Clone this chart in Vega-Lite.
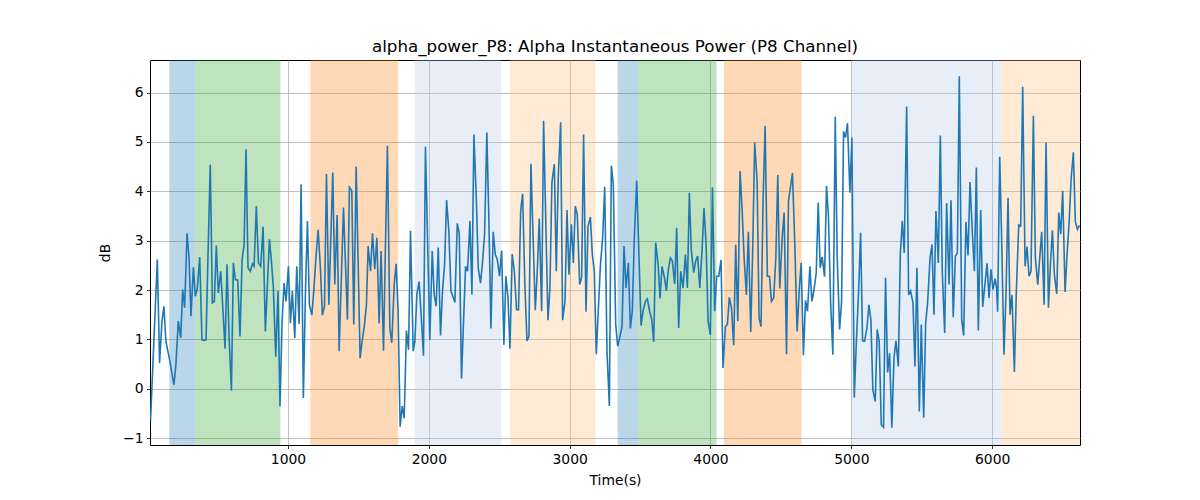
{
  "$schema": "https://vega.github.io/schema/vega-lite/v6.json",
  "autosize": {"type": "none"},
  "padding": {"left": 150, "top": 60, "right": 120, "bottom": 55},
  "width": 930,
  "height": 385,
  "title": {"text": "alpha_power_P8: Alpha Instantaneous Power (P8 Channel)", "fontSize": 16.7, "fontWeight": "normal", "font": "DejaVu Sans", "color": "black", "offset": 4},
  "config": {
    "font": "DejaVu Sans",
    "view": {"stroke": "black", "strokeWidth": 1},
    "axis": {
      "domain": false,
      "grid": true,
      "gridColor": "#b0b0b0",
      "gridWidth": 0.8,
      "gridOpacity": 1,
      "tickColor": "black",
      "tickSize": 3.5,
      "tickWidth": 0.8,
      "labelFontSize": 13.9,
      "labelColor": "black",
      "labelPadding": 3.5,
      "titleFontSize": 13.9,
      "titleFontWeight": "normal",
      "titleColor": "black"
    }
  },
  "datasets": {
    "spans": [
      {"start": 157, "end": 342, "kind": "a"},
      {"start": 342, "end": 946, "kind": "b"},
      {"start": 1159, "end": 1782, "kind": "c"},
      {"start": 1899, "end": 2515, "kind": "d"},
      {"start": 2575, "end": 3183, "kind": "e"},
      {"start": 3341, "end": 3485, "kind": "a"},
      {"start": 3485, "end": 4043, "kind": "b"},
      {"start": 4095, "end": 4647, "kind": "c"},
      {"start": 5002, "end": 6063, "kind": "d"},
      {"start": 6063, "end": 6624, "kind": "e"}
    ],
    "sig": [
      {"t":24,"v":-0.63},{"t":72,"v":2.62},{"t":88,"v":0.52},{"t":105,"v":1.37},{"t":119,"v":1.67},{"t":133,"v":0.96},{"t":159,"v":0.59},{"t":190,"v":0.08},{"t":204,"v":0.49},{"t":221,"v":1.37},{"t":238,"v":1.03},{"t":252,"v":2.01},{"t":266,"v":1.64},{"t":283,"v":3.15},{"t":297,"v":2.65},{"t":311,"v":1.47},{"t":328,"v":2.46},{"t":342,"v":1.87},{"t":356,"v":2.04},{"t":373,"v":2.67},{"t":389,"v":0.99},{"t":403,"v":0.98},{"t":418,"v":0.99},{"t":432,"v":2.72},{"t":448,"v":4.54},{"t":463,"v":1.74},{"t":477,"v":1.77},{"t":491,"v":2.90},{"t":505,"v":1.94},{"t":522,"v":2.38},{"t":536,"v":1.70},{"t":553,"v":0.81},{"t":567,"v":2.52},{"t":581,"v":1.09},{"t":598,"v":-0.04},{"t":612,"v":2.55},{"t":626,"v":2.21},{"t":643,"v":2.20},{"t":659,"v":1.06},{"t":674,"v":2.62},{"t":688,"v":2.92},{"t":702,"v":4.85},{"t":716,"v":2.45},{"t":733,"v":2.38},{"t":747,"v":2.53},{"t":759,"v":2.48},{"t":775,"v":3.70},{"t":790,"v":2.55},{"t":806,"v":2.48},{"t":823,"v":3.28},{"t":839,"v":1.16},{"t":868,"v":3.03},{"t":882,"v":2.59},{"t":896,"v":2.04},{"t":913,"v":0.65},{"t":929,"v":1.98},{"t":943,"v":-0.36},
      {"t":958,"v":1.37},{"t":972,"v":2.14},{"t":986,"v":1.77},{"t":1003,"v":2.48},{"t":1017,"v":1.33},{"t":1031,"v":1.98},{"t":1048,"v":1.03},{"t":1062,"v":2.48},{"t":1079,"v":1.31},{"t":1093,"v":4.14},{"t":1109,"v":-0.19},{"t":1124,"v":1.98},{"t":1138,"v":3.40},{"t":1152,"v":1.70},{"t":1169,"v":1.49},{"t":1183,"v":1.98},{"t":1200,"v":2.72},{"t":1214,"v":3.22},{"t":1230,"v":2.45},{"t":1244,"v":1.49},{"t":1259,"v":1.67},{"t":1273,"v":4.35},{"t":1290,"v":1.70},{"t":1318,"v":4.38},{"t":1332,"v":2.11},{"t":1349,"v":3.52},{"t":1363,"v":0.76},{"t":1394,"v":3.67},{"t":1422,"v":1.40},{"t":1436,"v":4.08},{"t":1453,"v":4.01},{"t":1467,"v":1.30},{"t":1484,"v":4.50},{"t":1512,"v":0.62},{"t":1526,"v":0.96},{"t":1543,"v":1.30},{"t":1557,"v":1.70},{"t":1569,"v":2.89},{"t":1586,"v":2.38},{"t":1600,"v":3.15},{"t":1616,"v":2.42},{"t":1631,"v":3.06},{"t":1647,"v":1.32},{"t":1661,"v":2.79},{"t":1678,"v":0.77},{"t":1692,"v":2.92},{"t":1706,"v":4.92},{"t":1723,"v":1.23},{"t":1737,"v":0.93},{"t":1754,"v":2.11},{"t":1768,"v":2.53},{"t":1782,"v":1.57},{"t":1796,"v":-0.77},{"t":1811,"v":-0.35},{"t":1825,"v":-0.60},{"t":1841,"v":1.18},{"t":1856,"v":0.79},{"t":1870,"v":3.20},
      {"t":1889,"v":0.76},{"t":1901,"v":0.96},{"t":1915,"v":1.91},{"t":1931,"v":2.17},{"t":1948,"v":1.37},{"t":1962,"v":0.67},{"t":1976,"v":4.90},{"t":2007,"v":0.99},{"t":2024,"v":2.79},{"t":2038,"v":1.91},{"t":2052,"v":1.67},{"t":2067,"v":2.86},{"t":2083,"v":1.08},{"t":2097,"v":1.98},{"t":2112,"v":2.52},{"t":2126,"v":3.82},{"t":2142,"v":3.20},{"t":2157,"v":1.98},{"t":2171,"v":1.87},{"t":2185,"v":1.75},{"t":2202,"v":3.35},{"t":2216,"v":3.15},{"t":2232,"v":0.21},{"t":2247,"v":1.40},{"t":2261,"v":2.48},{"t":2275,"v":2.38},{"t":2292,"v":3.40},{"t":2306,"v":1.91},{"t":2320,"v":5.15},{"t":2337,"v":3.87},{"t":2351,"v":2.45},{"t":2367,"v":2.14},{"t":2382,"v":2.59},{"t":2396,"v":3.13},{"t":2412,"v":5.19},{"t":2427,"v":3.33},{"t":2441,"v":1.22},{"t":2457,"v":3.18},{"t":2472,"v":2.72},{"t":2486,"v":2.62},{"t":2502,"v":2.28},{"t":2517,"v":2.80},{"t":2533,"v":0.89},{"t":2547,"v":2.28},{"t":2562,"v":1.84},{"t":2576,"v":0.81},{"t":2592,"v":2.73},{"t":2607,"v":2.38},{"t":2623,"v":1.60},{"t":2637,"v":1.60},{"t":2652,"v":3.60},{"t":2666,"v":3.95},{"t":2682,"v":2.11},{"t":2697,"v":0.97},{"t":2711,"v":1.06},{"t":2725,"v":4.56},{"t":2742,"v":2.92},{"t":2756,"v":1.59},{"t":2770,"v":2.38},{"t":2784,"v":3.45},{"t":2801,"v":1.57},{"t":2815,"v":5.43},
      {"t":2832,"v":3.20},{"t":2846,"v":1.39},{"t":2860,"v":2.04},{"t":2874,"v":4.18},{"t":2891,"v":4.55},{"t":2905,"v":2.38},{"t":2919,"v":4.28},{"t":2936,"v":5.40},{"t":2950,"v":1.39},{"t":2967,"v":1.77},{"t":2981,"v":3.62},{"t":2995,"v":2.31},{"t":3012,"v":3.33},{"t":3026,"v":2.55},{"t":3040,"v":3.70},{"t":3054,"v":3.53},{"t":3071,"v":2.11},{"t":3085,"v":2.25},{"t":3099,"v":5.15},{"t":3116,"v":1.56},{"t":3130,"v":3.28},{"t":3147,"v":3.48},{"t":3161,"v":2.72},{"t":3175,"v":2.38},{"t":3189,"v":0.70},{"t":3218,"v":2.48},{"t":3234,"v":3.06},{"t":3249,"v":4.09},{"t":3265,"v":0.76},{"t":3282,"v":-0.35},{"t":3296,"v":4.52},{"t":3310,"v":4.14},{"t":3327,"v":1.30},{"t":3341,"v":0.86},{"t":3355,"v":1.03},{"t":3372,"v":1.26},{"t":3386,"v":2.89},{"t":3400,"v":2.04},{"t":3417,"v":2.55},{"t":3431,"v":1.22},{"t":3445,"v":1.57},{"t":3459,"v":3.03},{"t":3476,"v":4.22},{"t":3507,"v":1.28},{"t":3521,"v":1.57},{"t":3538,"v":1.77},{"t":3552,"v":1.82},{"t":3568,"v":1.57},{"t":3583,"v":1.40},{"t":3597,"v":0.95},{"t":3611,"v":2.96},{"t":3628,"v":2.52},{"t":3642,"v":1.83},{"t":3656,"v":2.48},{"t":3673,"v":2.25},{"t":3687,"v":1.98},{"t":3701,"v":2.42},{"t":3715,"v":2.65},{"t":3729,"v":2.59},{"t":3746,"v":2.12},{"t":3760,"v":3.26},
      {"t":3774,"v":1.23},{"t":3789,"v":2.38},{"t":3805,"v":2.04},{"t":3822,"v":2.72},{"t":3836,"v":2.04},{"t":3850,"v":3.97},{"t":3864,"v":2.79},{"t":3881,"v":2.35},{"t":3895,"v":2.59},{"t":3909,"v":2.69},{"t":3924,"v":2.04},{"t":3940,"v":2.79},{"t":3954,"v":3.66},{"t":3969,"v":2.92},{"t":3983,"v":1.37},{"t":3999,"v":1.09},{"t":4014,"v":4.08},{"t":4030,"v":1.57},{"t":4044,"v":2.28},{"t":4059,"v":2.28},{"t":4075,"v":2.61},{"t":4089,"v":0.42},{"t":4106,"v":1.26},{"t":4120,"v":1.30},{"t":4134,"v":1.85},{"t":4149,"v":1.64},{"t":4165,"v":0.88},{"t":4179,"v":2.92},{"t":4194,"v":1.37},{"t":4210,"v":4.41},{"t":4224,"v":3.67},{"t":4239,"v":2.65},{"t":4255,"v":1.90},{"t":4269,"v":3.18},{"t":4286,"v":1.15},{"t":4300,"v":2.86},{"t":4314,"v":4.99},{"t":4331,"v":4.21},{"t":4345,"v":1.43},{"t":4359,"v":1.26},{"t":4374,"v":3.87},{"t":4388,"v":5.33},{"t":4404,"v":2.28},{"t":4419,"v":2.28},{"t":4433,"v":1.77},{"t":4449,"v":1.84},{"t":4464,"v":2.65},{"t":4478,"v":4.33},{"t":4492,"v":2.03},{"t":4509,"v":3.06},{"t":4523,"v":3.57},{"t":4540,"v":0.70},{"t":4554,"v":3.81},{"t":4568,"v":4.08},{"t":4582,"v":4.37},{"t":4599,"v":2.92},{"t":4615,"v":1.16},{"t":4630,"v":1.98},{"t":4644,"v":2.55},{"t":4660,"v":0.68},{"t":4675,"v":1.79},{"t":4689,"v":1.57},
      {"t":4706,"v":2.48},{"t":4720,"v":1.77},{"t":4734,"v":1.98},{"t":4751,"v":2.35},{"t":4765,"v":3.77},{"t":4779,"v":2.45},{"t":4793,"v":2.67},{"t":4810,"v":2.27},{"t":4824,"v":4.11},{"t":4838,"v":3.47},{"t":4853,"v":1.77},{"t":4869,"v":0.69},{"t":4886,"v":5.51},{"t":4900,"v":2.65},{"t":4917,"v":1.20},{"t":4931,"v":1.77},{"t":4945,"v":5.21},{"t":4959,"v":5.09},{"t":4973,"v":5.38},{"t":4990,"v":3.97},{"t":5004,"v":5.09},{"t":5021,"v":-0.18},{"t":5035,"v":0.89},{"t":5052,"v":1.98},{"t":5066,"v":3.16},{"t":5080,"v":0.97},{"t":5094,"v":0.96},{"t":5111,"v":1.23},{"t":5125,"v":1.70},{"t":5139,"v":1.40},{"t":5153,"v":-0.02},{"t":5170,"v":-0.26},{"t":5184,"v":1.20},{"t":5198,"v":0.96},{"t":5213,"v":-0.73},{"t":5229,"v":-0.78},{"t":5243,"v":2.25},{"t":5258,"v":0.33},{"t":5272,"v":0.72},{"t":5288,"v":-0.79},{"t":5303,"v":0.62},{"t":5317,"v":0.97},{"t":5334,"v":0.45},{"t":5348,"v":2.72},{"t":5362,"v":3.40},{"t":5376,"v":2.75},{"t":5393,"v":5.72},{"t":5407,"v":1.90},{"t":5421,"v":1.98},{"t":5438,"v":1.74},{"t":5452,"v":0.45},{"t":5466,"v":2.45},{"t":5483,"v":-0.46},{"t":5497,"v":1.30},{"t":5514,"v":-0.59},{"t":5528,"v":1.33},{"t":5542,"v":1.74},{"t":5559,"v":2.65},{"t":5573,"v":2.92},{"t":5587,"v":1.50},{"t":5601,"v":3.60},{"t":5618,"v":2.55},{"t":5632,"v":5.13},
      {"t":5646,"v":2.38},{"t":5663,"v":1.13},{"t":5677,"v":3.76},{"t":5694,"v":2.11},{"t":5708,"v":3.82},{"t":5724,"v":1.45},{"t":5739,"v":2.69},{"t":5753,"v":2.75},{"t":5767,"v":6.33},{"t":5784,"v":1.40},{"t":5798,"v":1.08},{"t":5814,"v":3.38},{"t":5829,"v":2.70},{"t":5843,"v":4.19},{"t":5859,"v":3.20},{"t":5874,"v":2.38},{"t":5888,"v":4.48},{"t":5902,"v":1.18},{"t":5919,"v":3.62},{"t":5933,"v":1.66},{"t":5949,"v":2.11},{"t":5964,"v":2.54},{"t":5978,"v":1.84},{"t":5992,"v":2.42},{"t":6006,"v":2.01},{"t":6021,"v":2.23},{"t":6032,"v":2.04},{"t":6039,"v":1.56},{"t":6054,"v":4.70},{"t":6068,"v":2.99},{"t":6084,"v":0.69},{"t":6099,"v":1.98},{"t":6113,"v":3.87},{"t":6127,"v":1.50},{"t":6141,"v":1.90},{"t":6158,"v":0.34},{"t":6172,"v":1.98},{"t":6189,"v":3.32},{"t":6203,"v":3.30},{"t":6217,"v":6.12},{"t":6234,"v":2.48},{"t":6248,"v":2.88},{"t":6262,"v":2.28},{"t":6276,"v":2.38},{"t":6293,"v":5.53},{"t":6307,"v":2.65},{"t":6324,"v":2.11},{"t":6338,"v":2.65},{"t":6352,"v":3.18},{"t":6369,"v":1.70},{"t":6383,"v":4.99},{"t":6400,"v":1.64},{"t":6414,"v":2.52},{"t":6428,"v":3.21},{"t":6442,"v":2.31},{"t":6459,"v":1.92},{"t":6473,"v":3.57},{"t":6487,"v":3.13},{"t":6501,"v":4.01},{"t":6518,"v":1.96},{"t":6532,"v":2.72},{"t":6546,"v":3.33},{"t":6561,"v":4.25},{"t":6577,"v":4.79},{"t":6591,"v":3.38},{"t":6606,"v":3.23},{"t":6620,"v":3.31}
    ]
  },
  "layer": [
    {
      "data": {"name": "spans"},
      "mark": {"type": "rect", "opacity": 0.3},
      "encoding": {
        "x": {"field": "start", "type": "quantitative", "scale": {"domain": [20, 6624], "nice": false, "zero": false},
          "axis": {"title": "Time(s)", "values": [1000, 2000, 3000, 4000, 5000, 6000], "format": "d", "titlePadding": 8}},
        "x2": {"field": "end"},
        "color": {"field": "kind", "type": "nominal", "legend": null,
          "scale": {"domain": ["a", "b", "c", "d", "e"], "range": ["#1f77b4", "#2ca02c", "#ff7f0e", "#aec7e8", "#ffbb78"]}}
      }
    },
    {
      "data": {"name": "sig"},
      "mark": {"type": "line", "color": "#1f77b4", "strokeWidth": 1.6, "clip": true},
      "encoding": {
        "x": {"field": "t", "type": "quantitative", "scale": {"domain": [20, 6624], "nice": false, "zero": false},
          "axis": {"title": "Time(s)", "values": [1000, 2000, 3000, 4000, 5000, 6000], "format": "d", "titlePadding": 8}},
        "y": {"field": "v", "type": "quantitative", "scale": {"domain": [-1.14, 6.66], "nice": false, "zero": false},
          "axis": {"title": "dB", "values": [-1, 0, 1, 2, 3, 4, 5, 6], "labelExpr": "replace(datum.label, '-', '\u2212')", "titlePadding": 10}}
      }
    }
  ]
}
